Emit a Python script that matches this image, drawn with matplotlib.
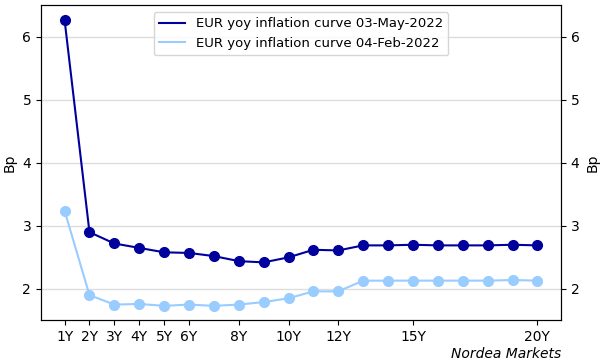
import matplotlib
matplotlib.use("Agg")
import matplotlib.pyplot as plt

TENORS = list(range(1, 21))
TICK_POS = [1, 2, 3, 4, 5, 6, 8, 10, 12, 15, 20]
TICK_LABELS = ["1Y", "2Y", "3Y", "4Y", "5Y", "6Y", "8Y", "10Y", "12Y", "15Y", "20Y"]

CURVE_MAY = [6.27, 2.90, 2.72, 2.65, 2.58, 2.57, 2.52, 2.44, 2.42, 2.50,
             2.62, 2.61, 2.69, 2.69, 2.70, 2.69, 2.69, 2.69, 2.70, 2.69]
CURVE_FEB = [3.24, 1.90, 1.75, 1.76, 1.73, 1.75, 1.73, 1.75, 1.79, 1.85,
             1.96, 1.96, 2.13, 2.13, 2.13, 2.13, 2.13, 2.13, 2.14, 2.13]

DARK = "#00009c"
LIGHT = "#99ccff"

fig, ax = plt.subplots(figsize=(6.02, 3.64), dpi=100)
fig.subplots_adjust(left=0.068, right=0.932, top=0.985, bottom=0.12)

ax.plot(TENORS, CURVE_MAY, color=DARK, lw=1.5, marker="o", ms=7,
        label="EUR yoy inflation curve 03-May-2022")
ax.plot(TENORS, CURVE_FEB, color=LIGHT, lw=1.5, marker="o", ms=7,
        label="EUR yoy inflation curve 04-Feb-2022")

ax.set_ylim(1.5, 6.5)
ax.set_yticks([2, 3, 4, 5, 6])
ax.set_xticks(TICK_POS)
ax.set_xticklabels(TICK_LABELS)
ax.grid(axis="y", color="#dddddd", lw=1)
ax.set_axisbelow(True)
ax.set_ylabel("Bp")

ax2 = ax.twinx()
ax2.set_ylim(ax.get_ylim())
ax2.set_yticks([2, 3, 4, 5, 6])
ax2.set_ylabel("Bp")

# legend shows lines only, no markers
handles = [plt.Line2D([], [], color=DARK, lw=1.5), plt.Line2D([], [], color=LIGHT, lw=1.5)]
ax.legend(handles, [l.get_label() for l in ax.get_lines()], loc="upper center",
          bbox_to_anchor=(0.5, 1.0), fontsize=9.5)

fig.text(0.932, 0.008, "Nordea Markets", ha="right", va="bottom", style="italic", fontsize=10)

plt.savefig("out.png", dpi=100)
